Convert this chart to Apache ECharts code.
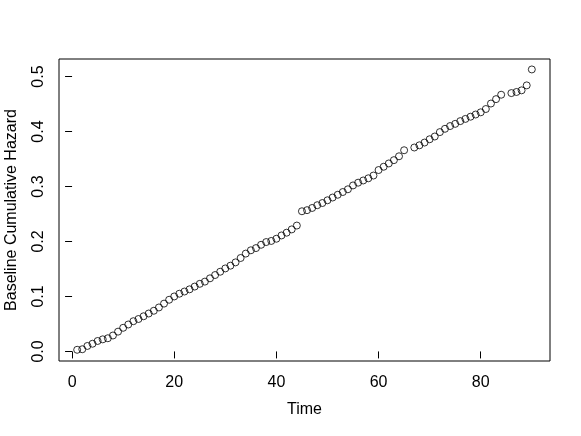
<!DOCTYPE html>
<html>
<head>
<meta charset="utf-8">
<script src="https://cdn.jsdelivr.net/npm/echarts@6/dist/echarts.min.js"></script>
<style>html,body{margin:0;padding:0;background:#fff;}#c{width:581px;height:436px;}</style>
</head>
<body>
<div id="c"></div>
<script>
var times = [1,2,3,4,5,6,7,8,9,10,11,12,13,14,15,16,17,18,19,20,21,22,23,24,25,26,27,28,29,30,31,32,33,34,35,36,37,38,39,40,41,42,43,44,45,46,47,48,49,50,51,52,53,54,55,56,57,58,59,60,61,62,63,64,65,67,68,69,70,71,72,73,74,75,76,77,78,79,80,81,82,83,84,86,87,88,89,90];
var hazard = [0.003,0.004,0.010,0.014,0.019,0.022,0.024,0.029,0.036,0.043,0.049,0.055,0.059,0.064,0.069,0.074,0.080,0.087,0.094,0.100,0.105,0.109,0.113,0.118,0.123,0.127,0.133,0.139,0.145,0.151,0.156,0.162,0.170,0.178,0.184,0.188,0.194,0.199,0.201,0.205,0.211,0.216,0.222,0.229,0.255,0.257,0.261,0.266,0.270,0.275,0.280,0.285,0.290,0.295,0.302,0.307,0.311,0.315,0.320,0.330,0.336,0.342,0.348,0.355,0.366,0.371,0.375,0.380,0.386,0.391,0.399,0.405,0.410,0.414,0.419,0.423,0.427,0.431,0.435,0.441,0.451,0.459,0.467,0.470,0.472,0.475,0.484,0.513];
var xTicks = [0,20,40,60,80];
var yTicks = [0,0.1,0.2,0.3,0.4,0.5];
var xTitle = 'Time';
var yTitle = 'Baseline Cumulative Hazard';

var pts = times.map(function(t,i){return [t, hazard[i]];});
var font = 'Liberation Sans, Arial, Helvetica, sans-serif';
var chart = echarts.init(document.getElementById('c'), null, {renderer:'canvas'});
chart.setOption({
  animation:false,
  backgroundColor:'#fff',
  grid:{left:59,right:31,top:59,bottom:75,outerBoundsMode:'none',containLabel:false,show:true,borderColor:'#000',borderWidth:1,backgroundColor:'transparent'},
  xAxis:{type:'value',min:-2.56,max:93.56,
    name:xTitle,nameLocation:'middle',nameGap:41,
    nameTextStyle:{color:'#000',fontSize:16,fontFamily:font},
    axisLine:{show:false},
    axisTick:{show:true,inside:false,length:7,customValues:xTicks,lineStyle:{color:'#000',width:1}},
    axisLabel:{customValues:xTicks,margin:14,color:'#000',fontSize:16,fontFamily:font},
    splitLine:{show:false}},
  yAxis:{type:'value',min:-0.0174,max:0.532,
    name:yTitle,nameLocation:'middle',nameGap:39,nameRotate:90,
    nameTextStyle:{color:'#000',fontSize:16,fontFamily:font},
    axisLine:{show:false},
    axisTick:{show:true,inside:false,length:7,customValues:yTicks,lineStyle:{color:'#000',width:1}},
    axisLabel:{customValues:yTicks,margin:12,rotate:90,color:'#000',fontSize:16,fontFamily:font,
      formatter:function(v){return v.toFixed(1);}},
    splitLine:{show:false}},
  series:[{type:'scatter',data:pts,symbol:'circle',symbolSize:7,
    itemStyle:{color:'transparent',borderColor:'#000',borderWidth:1}}]
});
</script>
</body>
</html>
